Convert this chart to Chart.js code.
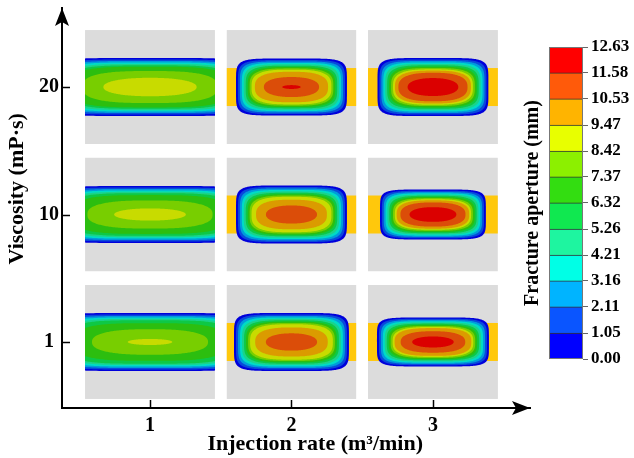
<!DOCTYPE html>
<html><head><meta charset="utf-8">
<script src="https://cdn.jsdelivr.net/npm/chart.js@4.4.1/dist/chart.umd.min.js"></script>
<style>
html,body{margin:0;padding:0;background:#fff;}
#wrap{position:relative;width:634px;height:458px;}
#main{position:absolute;left:0;top:0;}
#bar{position:absolute;left:520px;top:0;}
</style></head><body>
<div id="wrap">
<canvas id="main" width="634" height="458"></canvas>
<canvas id="bar" width="114" height="458"></canvas>
</div>
<script>
// ---- data ----
const injectionRates = [1, 2, 3];
const viscosityLabels = ['1', '10', '20'];
// peak fracture aperture (mm) for injection rates 1, 2, 3
const peakVisc1  = [8.58, 11.43, 12.23];
const peakVisc10 = [8.86, 11.50, 12.55];
const peakVisc20 = [9.22, 11.70, 12.63];
// fracture half-length, relative to the cell half-width
const lenVisc1  = [1.54, 0.885, 0.862];
const lenVisc10 = [1.54, 0.854, 0.815];
const lenVisc20 = [1.54, 0.854, 0.854];
// fracture half-height, relative to the cell half-height
const hgtVisc1  = [0.509, 0.509, 0.430];
const hgtVisc10 = [0.500, 0.509, 0.439];
const hgtVisc20 = [0.509, 0.500, 0.509];
const apertureLevels = [0, 1.05, 2.11, 3.16, 4.21, 5.26, 6.32, 7.37, 8.42, 9.47, 10.53, 11.58, 12.63];
const apertureLabels = ['0.00','1.05','2.11','3.16','4.21','5.26','6.32','7.37','8.42','9.47','10.53','11.58','12.63'];

// ---- styles ----
const levelColors = ['#0000FF','#0A55FF','#00B4FF','#00FFE6','#1EF5A0','#10E850','#33DD11','#8CF000','#E8FF00','#FFB400','#FF5A0A','#FF0000'];
const FONT = "'Liberation Serif','Times New Roman',serif";
const NB = '\u00A0';

const peaks = [peakVisc1, peakVisc10, peakVisc20];
const lens = [lenVisc1, lenVisc10, lenVisc20];
const hgts = [hgtVisc1, hgtVisc10, hgtVisc20];
const points = [];
viscosityLabels.forEach((v, i) => {
  injectionRates.forEach((r, j) => {
    points.push({x: r, y: i + 1, peak: peaks[i][j], len: lens[i][j], hgt: hgts[i][j]});
  });
});

function shade(hex, f) {
  const n = parseInt(hex.slice(1), 16);
  const r = Math.round(((n >> 16) & 255) * f), g = Math.round(((n >> 8) & 255) * f), b = Math.round((n & 255) * f);
  return `rgb(${r},${g},${b})`;
}

const PANEL_HW = 0.459, PANEL_HH = 0.447, BAND_HH = 0.149;
const contourPlugin = {
  id: 'contours',
  beforeDatasetsDraw(chart) {
    const {ctx, scales: {x, y}} = chart;
    chart.data.datasets[0].data.forEach(d => {
      const cx = x.getPixelForValue(d.x), cy = y.getPixelForValue(d.y);
      const hw = x.getPixelForValue(d.x + PANEL_HW) - cx;
      const hh = cy - y.getPixelForValue(d.y + PANEL_HH);
      const bh = cy - y.getPixelForValue(d.y + BAND_HH);
      ctx.save();
      ctx.beginPath(); ctx.rect(cx - hw, cy - hh, 2 * hw, 2 * hh); ctx.clip();
      ctx.fillStyle = '#DCDCDC'; ctx.fillRect(cx - hw, cy - hh, 2 * hw, 2 * hh);
      ctx.fillStyle = '#FFC80C'; ctx.fillRect(cx - hw, cy - bh, 2 * hw, 2 * bh);
      const a = d.len * hw, b = d.hgt * hh;
      for (let k = 0; k < levelColors.length; k++) {
        const L = apertureLevels[k];
        if (L >= d.peak) break;
        const t = L / d.peak;
        let r = Math.sqrt(1 - Math.pow(t, 2.7));
        r = Math.min(r, 1 - k * 0.035);
        const ax = a * r, by = b * Math.pow(r, 1.5);
        const n = 2 + 4 * Math.pow(r, 4);
        ctx.beginPath();
        for (let i = 0; i <= 240; i++) {
          const th = i / 240 * 2 * Math.PI, c = Math.cos(th), s = Math.sin(th);
          const px = cx + ax * Math.sign(c) * Math.pow(Math.abs(c), 2 / n);
          const py = cy + by * Math.sign(s) * Math.pow(Math.abs(s), 2 / n);
          if (i) ctx.lineTo(px, py); else ctx.moveTo(px, py);
        }
        ctx.closePath();
        ctx.fillStyle = shade(levelColors[k], 0.86);
        ctx.fill();
      }
      ctx.restore();
    });
  }
};

const axisPlugin = {
  id: 'axisArrows',
  afterDraw(chart) {
    const {ctx, chartArea: {left, right, top, bottom}, scales: {x, y}} = chart;
    ctx.save();
    ctx.strokeStyle = '#000'; ctx.lineWidth = 1.5;
    x.ticks.forEach(t => { const px = Math.round(x.getPixelForValue(t.value)) + 0.5; ctx.beginPath(); ctx.moveTo(px, bottom); ctx.lineTo(px, bottom - 8); ctx.stroke(); });
    y.ticks.forEach(t => { const py = Math.round(y.getPixelForValue(t.value)) + 0.5; ctx.beginPath(); ctx.moveTo(left, py); ctx.lineTo(left + 8, py); ctx.stroke(); });
    ctx.fillStyle = '#000';
    ctx.beginPath(); ctx.moveTo(left, top); ctx.lineTo(left - 7, top + 18); ctx.lineTo(left, top + 14); ctx.lineTo(left + 7, top + 18); ctx.closePath(); ctx.fill();
    ctx.beginPath(); ctx.moveTo(right, bottom); ctx.lineTo(right - 18, bottom - 7); ctx.lineTo(right - 14, bottom); ctx.lineTo(right - 18, bottom + 7); ctx.closePath(); ctx.fill();
    ctx.restore();
  }
};

new Chart(document.getElementById('main'), {
  type: 'scatter',
  data: {datasets: [{data: points, pointRadius: 0, pointHoverRadius: 0}]},
  options: {
    responsive: false, animation: false, events: [],
    layout: {padding: {left: 0, top: 8, right: 104, bottom: 0}},
    plugins: {legend: {display: false}, tooltip: {enabled: false}},
    scales: {
      x: {
        type: 'linear', min: 0.378, max: 3.686,
        afterBuildTicks: s => { s.ticks = injectionRates.map(v => ({value: v})); },
        afterFit: s => { s.height = 50; s.paddingLeft = 0; s.paddingRight = 0; },
        grid: {display: false, drawTicks: false},
        border: {display: true, color: '#000', width: 2},
        ticks: {color: '#000', padding: 6, maxRotation: 0, font: {family: FONT, size: 20, weight: 'bold'}, callback: (v, i) => String(injectionRates[i])},
        title: {display: true, text: NB.repeat(7) + 'Injection rate (m³/min)', color: '#000', padding: {top: 0, bottom: 0}, font: {family: FONT, size: 22, weight: 'bold'}}
      },
      y: {
        type: 'linear', min: 0.482, max: 3.62,
        afterBuildTicks: s => { s.ticks = viscosityLabels.map((v, i) => ({value: i + 1})); },
        afterFit: s => { s.width = 62; s.paddingTop = 0; s.paddingBottom = 0; },
        grid: {display: false, drawTicks: false},
        border: {display: true, color: '#000', width: 2},
        ticks: {color: '#000', padding: 3, crossAlign: 'center', font: {family: FONT, size: 20, weight: 'bold'}, callback: (v, i) => viscosityLabels[i]},
        title: {display: true, text: NB.repeat(7) + 'Viscosity (mP·s)', color: '#000', padding: {top: 4, bottom: 0}, font: {family: FONT, size: 22, weight: 'bold'}}
      }
    }
  },
  plugins: [contourPlugin, axisPlugin]
});

const outlinePlugin = {
  id: 'barOutline',
  afterDatasetsDraw(chart) {
    const {ctx, chartArea: {left, right, top, bottom}} = chart;
    ctx.save(); ctx.strokeStyle = '#777'; ctx.lineWidth = 1;
    ctx.strokeRect(left + 0.5, top + 0.5, right - left - 1, bottom - top - 1);
    ctx.restore();
  }
};

new Chart(document.getElementById('bar'), {
  type: 'bar',
  data: {
    labels: [''],
    datasets: levelColors.map((c, i) => ({
      data: [[apertureLevels[i], apertureLevels[i + 1]]],
      backgroundColor: c, borderColor: '#333',
      borderWidth: {top: 1, bottom: 0, left: 0, right: 0}, borderSkipped: false,
      barPercentage: 1, categoryPercentage: 1
    }))
  },
  options: {
    responsive: false, animation: false, events: [],
    layout: {padding: {left: 0, top: 47, right: 0, bottom: 99}},
    plugins: {legend: {display: false}, tooltip: {enabled: false}},
    scales: {
      x: {display: false, stacked: true},
      y: {
        position: 'right', min: 0, max: 12.63,
        afterBuildTicks: s => { s.ticks = apertureLevels.map(v => ({value: v})); },
        afterFit: s => { s.width = 51; s.paddingTop = 0; s.paddingBottom = 0; },
        grid: {drawOnChartArea: false, drawTicks: true, tickLength: 5, color: '#666'},
        border: {display: false},
        ticks: {padding: 3, color: '#000', font: {family: FONT, size: 17, weight: 'bold'}, callback: (v, i) => apertureLabels[i]}
      },
      yTitle: {
        position: 'left', min: 0, max: 12.63,
        afterFit: s => { s.width = 29; s.paddingTop = 0; s.paddingBottom = 0; },
        grid: {display: false}, border: {display: false},
        ticks: {display: false},
        title: {display: true, text: 'Fracture aperture (mm)', color: '#000', padding: {top: 1, bottom: 0}, font: {family: FONT, size: 20, weight: 'bold'}}
      }
    }
  },
  plugins: [outlinePlugin]
});
</script>
</body></html>
